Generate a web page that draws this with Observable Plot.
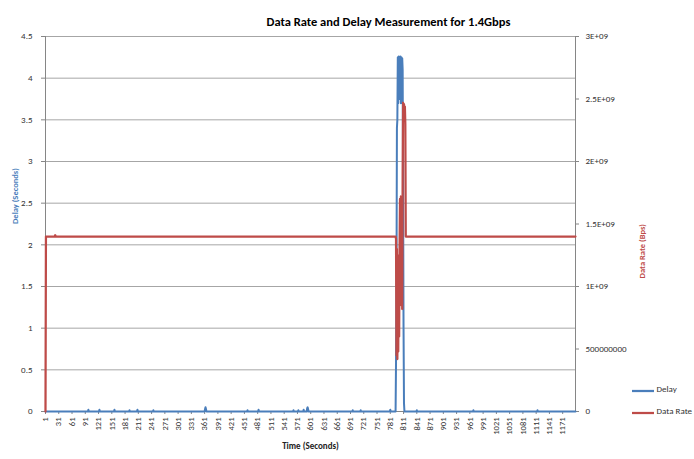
<!DOCTYPE html>
<html><head><meta charset="utf-8">
<script src="https://cdn.jsdelivr.net/npm/d3@7"></script>
<script src="https://cdn.jsdelivr.net/npm/@observablehq/plot@0.6"></script>
<style>body{margin:0;background:#fff}</style>
</head><body><div id="chart"></div>
<script>
// ---- data ----
const title = "Data Rate and Delay Measurement for 1.4Gbps";
const xTitle = "Time (Seconds)";
const yLeftTitle = "Delay (Seconds)";
const yRightTitle = "Data Rate (Bps)";
const seriesNames = ["Delay", "Data Rate"];
const seriesColors = ["#4a7ebb", "#be4b48"];

const xTicks = [1,31,61,91,121,151,181,211,241,271,301,331,361,391,421,451,481,511,541,571,601,631,661,691,721,751,781,811,841,871,901,931,961,991,1021,1051,1081,1111,1141,1171];
const delayTicks = [0,0.5,1,1.5,2,2.5,3,3.5,4,4.5];
const rateTicks = [0,5e8,1e9,1.5e9,2e9,2.5e9,3e9];
const rateTickLabels = ["0","500000000","1E+09","1.5E+09","2E+09","2.5E+09","3E+09"];

// [time (s), delay (s)]
const delaySeries = [
  [1,0],[97,0],[98,0.02],[99,0],
  [122,0],[123,0.02],[124,0],
  [156,0],[157,0.02],[158,0],
  [190,0],[191,0.015],[192,0],
  [208,0],[209,0.02],[210,0],
  [244,0],[245,0.015],[246,0],
  [361,0],[362,0.03],[363,0.05],[364,0.03],[365,0],
  [457,0],[458,0.015],[459,0],
  [482,0],[483,0.02],[484,0],
  [561,0],[562,0.015],[563,0],
  [572,0],[573,0.015],[574,0],
  [584,0],[585,0.02],[586,0],
  [592,0],[593,0.04],[594,0.05],[595,0.03],[596,0],
  [695,0],[696,0.015],[697,0],
  [713,0],[714,0.015],[715,0],
  [780,0],[781,0.02],[782,0],
  [793,0],[794,0.6],[795,1.5],[796,3.4],[797,3.5],[798,4.25],[799,3.7],[800,4.26],
  [801,3.75],[802,4.25],[803,3.8],[804,4.26],[805,3.7],[806,4.25],[807,3.85],[808,4.24],
  [809,4.1],[810,2.6],[811,1.0],[812,0.1],[813,0],
  [840,0],[841,0.015],[842,0],
  [968,0],[969,0.015],[970,0],
  [1113,0],[1114,0.015],[1115,0],
  [1200,0]
];

// [time (s), data rate (Bps)]
const rateSeries = [
  [1,0],[2,1.4e9],[22,1.4e9],[23,1.41e9],[24,1.4e9],
  [793,1.4e9],[794,1.38e9],[795,0.45e9],[796,1.3e9],[797,0.42e9],[798,1.25e9],
  [799,0.48e9],[800,1.2e9],[801,0.6e9],[802,1.3e9],[803,1.7e9],[804,1.0e9],
  [805,1.72e9],[806,0.85e9],[807,1.3e9],[808,0.82e9],[809,1.9e9],[810,2.47e9],
  [811,2.35e9],[812,2.46e9],[813,2.38e9],[814,2.44e9],[815,2.3e9],[816,1.4e9],
  [1200,1.4e9]
];

// ---- chart ----
const delayMax = 4.5, rateMax = 3e9;
const k = delayMax / rateMax; // map rate onto the delay scale
const rateLabelMap = new Map(rateTicks.map((v, i) => [v * k, rateTickLabels[i]]));
const font = "Carlito, 'Liberation Sans Narrow', 'Liberation Sans', Arial, sans-serif";
const axisGray = "#868686";
const gridGray = "#a6a6a6";

const chart = Plot.plot({
  width: 694, height: 459,
  marginTop: 36, marginBottom: 48, marginLeft: 45, marginRight: 119,
  style: {fontFamily: font, fontSize: "9px", color: "#333", background: "#fff", overflow: "visible"},
  x: {domain: [1, 1200]},
  y: {domain: [0, delayMax]},
  marks: [
    Plot.gridY(delayTicks, {stroke: gridGray, strokeOpacity: 1}),
    Plot.ruleX([1], {stroke: axisGray}),
    Plot.ruleX([1200], {stroke: axisGray}),
    Plot.ruleY([0], {stroke: axisGray}),
    Plot.axisY({ticks: delayTicks, tickSize: 4, tickPadding: 9, stroke: axisGray, tickFormat: d => String(d), label: null, fontSize: 9}),
    Plot.axisY({anchor: "right", ticks: rateTicks.map(v => v * k), tickSize: 3, tickPadding: 7, stroke: axisGray, tickFormat: d => rateLabelMap.get(d), label: null, fontSize: 9}),
    Plot.axisX({ticks: xTicks, tickRotate: -90, tickSize: 3, tickPadding: 3, stroke: axisGray, tickFormat: d => String(d), label: null, fontSize: 8.5}),
    Plot.line(delaySeries, {x: d => d[0], y: d => d[1], stroke: seriesColors[0], strokeWidth: 2}),
    Plot.line(rateSeries, {x: d => d[0], y: d => d[1] * k, stroke: seriesColors[1], strokeWidth: 2.25}),
    Plot.text([title], {frameAnchor: "top", dx: 78, dy: -19, fontSize: 12.5, fontWeight: "bold", fill: "#000"}),
    Plot.text([xTitle], {frameAnchor: "bottom", dy: 37, fontSize: 9, fontWeight: "bold", fill: "#222"}),
    Plot.text([yLeftTitle], {frameAnchor: "left", dx: -30, rotate: -90, fontSize: 8.5, fontWeight: "bold", fill: seriesColors[0]}),
    Plot.text([yRightTitle], {frameAnchor: "right", dx: 67, rotate: -90, fontSize: 8.5, fontWeight: "bold", fill: seriesColors[1]}),
    Plot.text([seriesNames[0]], {frameAnchor: "bottom-right", dx: 81, dy: -20, textAnchor: "start", fontSize: 9, fill: "#333"}),
    Plot.text([seriesNames[1]], {frameAnchor: "bottom-right", dx: 81, dy: 2, textAnchor: "start", fontSize: 9, fill: "#333"})
  ]
});
document.getElementById("chart").appendChild(chart);

// legend swatches
const svg = d3.select(chart);
const legendY = [391, 413];
seriesColors.forEach((c, i) => {
  svg.append("line").attr("x1", 632).attr("x2", 654).attr("y1", legendY[i]).attr("y2", legendY[i])
    .attr("stroke", c).attr("stroke-width", 2.25);
});
</script></body></html>
